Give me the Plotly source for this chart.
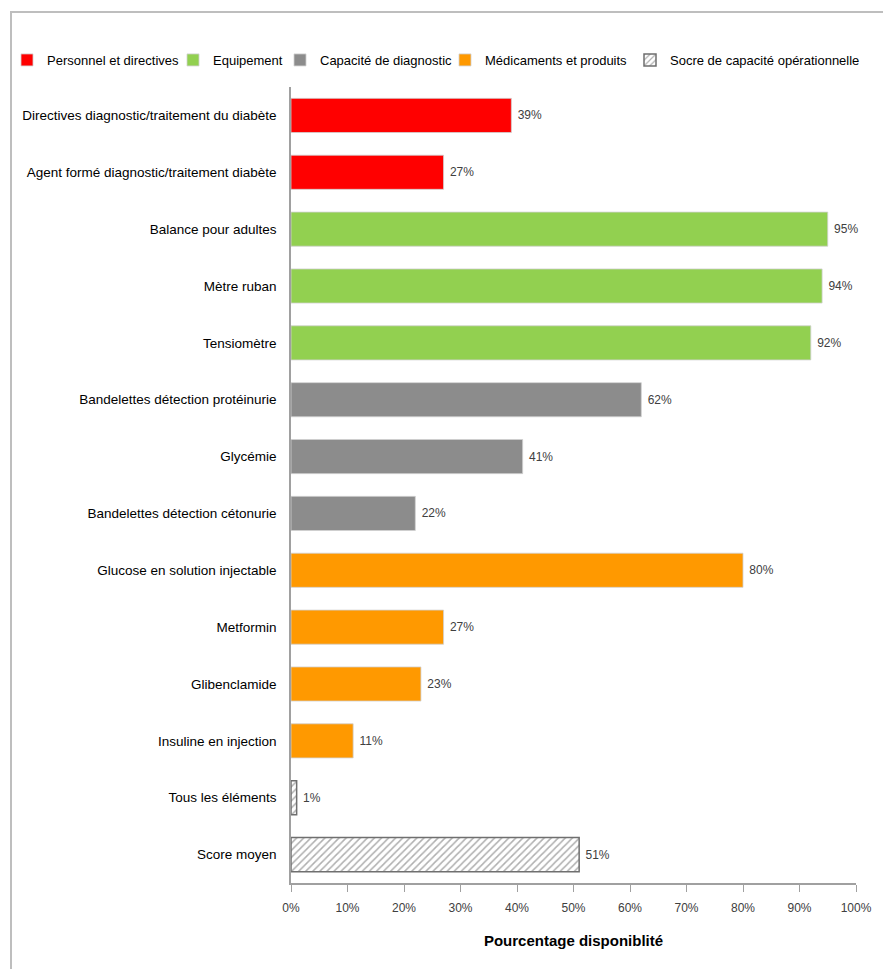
import plotly.graph_objects as go

# categories, top to bottom
categories = [
    "Directives diagnostic/traitement du diabète",
    "Agent formé diagnostic/traitement diabète",
    "Balance pour adultes",
    "Mètre ruban",
    "Tensiomètre",
    "Bandelettes détection protéinurie",
    "Glycémie",
    "Bandelettes détection cétonurie",
    "Glucose en solution injectable",
    "Metformin",
    "Glibenclamide",
    "Insuline en injection",
    "Tous les éléments",
    "Score moyen",
]
values = [39, 27, 95, 94, 92, 62, 41, 22, 80, 27, 23, 11, 1, 51]
groups = [0, 0, 1, 1, 1, 2, 2, 2, 3, 3, 3, 3, 4, 4]

group_names = [
    "Personnel et directives",
    "Equipement",
    "Capacité de diagnostic",
    "Médicaments et produits",
    "Socre de capacité opérationnelle",
]
group_colors = ["#FF0000", "#92D050", "#8C8C8C", "#FF9900", "#FFFFFF"]

x_ticks = [0, 10, 20, 30, 40, 50, 60, 70, 80, 90, 100]
x_ticktext = [f"{t}%" for t in x_ticks]

FONT = "Liberation Sans Narrow, Arial Narrow, Liberation Sans, Arial, sans-serif"

# the page body has an 8px margin; work in page pixels and shift back
OFF = 8
PAGE_W, PAGE_H = 891, 969
L, R, T, B = 291, 856, 87, 883
W, H = R - L, B - T


def px_x(p):
    return (p - L) / W


def px_y(p):
    return (B - p) / H


# left edge (px) of each legend entry's text in the reference
legend_text_x = [47, 213, 320, 485, 670]

fig = go.Figure()

for g, name in enumerate(group_names):
    ys = [c for c, k in zip(categories, groups) if k == g]
    xs = [v for v, k in zip(values, groups) if k == g]
    hatched = g == 4
    fig.add_trace(go.Bar(
        y=ys, x=xs, name=name, orientation="h",
        legend="legend" if g == 0 else f"legend{g + 1}",
        marker=dict(
            color=group_colors[g],
            line=dict(color="#6F6F6F" if hatched else "#D0D0D0", width=1.5 if hatched else 0.8),
            pattern=dict(shape="/", fgcolor="#606060", bgcolor="#FFFFFF", size=5, solidity=0.3) if hatched else None,
        ),
        text=[f"\u00a0{v}%" for v in xs],
        textposition="outside",
        textfont=dict(size=12, color="#404040", family=FONT),
        cliponaxis=False,
    ))

legends = {}
for g in range(len(group_names)):
    key = "legend" if g == 0 else f"legend{g + 1}"
    legends[key] = dict(
        orientation="h", x=px_x(legend_text_x[g] - 40), y=px_y(60),
        xanchor="left", yanchor="middle", itemwidth=30,
        font=dict(size=13, family=FONT, color="#000000"),
        bgcolor="rgba(0,0,0,0)", borderwidth=0,
    )

fig.update_layout(
    width=PAGE_W - OFF, height=PAGE_H - OFF,
    margin=dict(l=L - OFF, r=PAGE_W - R, t=T - OFF, b=PAGE_H - B, autoexpand=False),
    paper_bgcolor="white", plot_bgcolor="white",
    font=dict(family=FONT, size=13.5, color="#000000"),
    barmode="overlay",
    bargap=0.4,
    showlegend=True,
    xaxis=dict(
        range=[0, 100], tickvals=x_ticks, ticktext=x_ticktext,
        showgrid=False, zeroline=False, automargin=False,
        showline=True, linecolor="#A0A0A0", linewidth=1.5,
        ticks="outside", ticklen=7, tickcolor="#A0A0A0", ticklabelstandoff=6,
        tickfont=dict(size=12, color="#404040"),
        title=dict(text="<b>Pourcentage disponiblité</b>", font=dict(size=15), standoff=21),
    ),
    yaxis=dict(
        categoryorder="array", categoryarray=categories, autorange="reversed",
        showgrid=False, zeroline=False, automargin=False,
        showline=True, linecolor="#A0A0A0", linewidth=1.5,
        ticks="", ticklabelstandoff=10,
        tickfont=dict(size=13.5, color="#000000"),
    ),
    shapes=[dict(
        type="rect", xref="paper", yref="paper",
        x0=px_x(11), x1=px_x(886), y0=px_y(1000), y1=px_y(12),
        line=dict(color="#BEBEBE", width=2), fillcolor="rgba(0,0,0,0)",
        layer="below",
    )],
    **legends,
)

fig.write_html("out.html")
